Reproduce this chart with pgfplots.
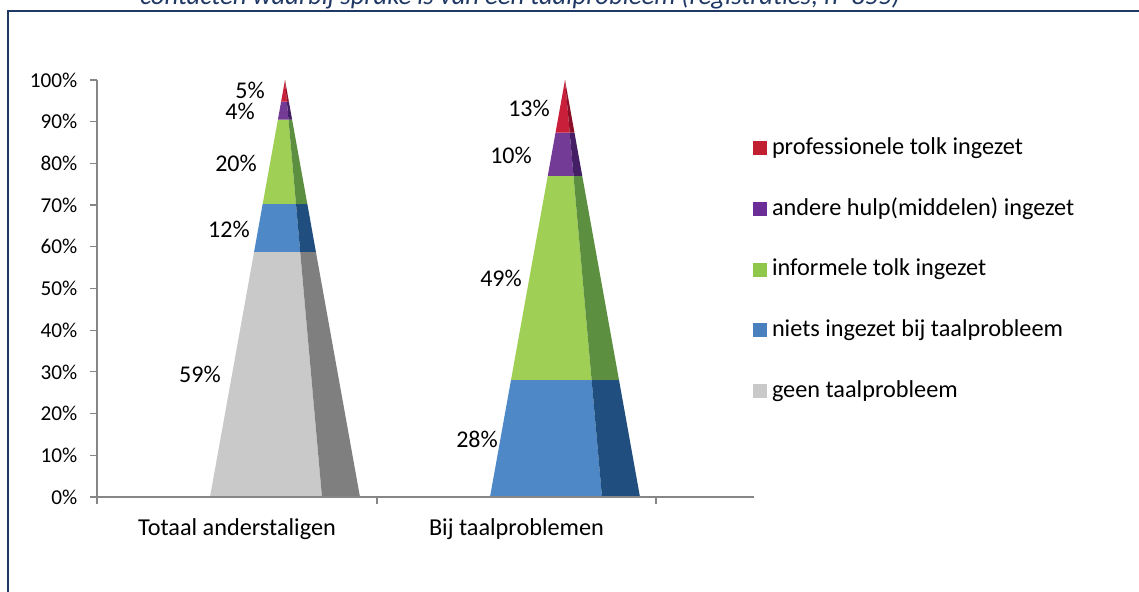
\documentclass[border=0pt]{standalone}
\usepackage{fontspec}
\setmainfont{Carlito}
\usepackage{pgfplots}
\pgfplotsset{compat=1.18}
\definecolor{framec}{HTML}{1F3864}
\definecolor{axisc}{HTML}{868686}
\definecolor{redf}{HTML}{C91F3B}
\definecolor{redd}{HTML}{8C0F28}
\definecolor{purf}{HTML}{733A96}
\definecolor{purd}{HTML}{441F66}
\definecolor{grnf}{HTML}{A0CF55}
\definecolor{grnd}{HTML}{5C8F3F}
\definecolor{bluf}{HTML}{4F88C7}
\definecolor{blud}{HTML}{1F4E7F}
\definecolor{gryf}{HTML}{C9C9C9}
\definecolor{gryd}{HTML}{7F7F7F}
\definecolor{redl}{HTML}{C0202F}
\definecolor{purl}{HTML}{6A2E96}
\definecolor{grnl}{HTML}{8FC74A}
\definecolor{blul}{HTML}{4A80BE}
\begin{document}
\begin{tikzpicture}
\useasboundingbox (-72.75pt,-71.25pt) rectangle (781.5pt,372.75pt);
\clip (-72.75pt,-71.25pt) rectangle (781.5pt,372.75pt);
\draw[framec, line width=1.6pt] (-66.75pt,-72pt) -- (-66.75pt,364.5pt) -- (782pt,364.5pt);
\node[anchor=base, text=framec, font=\fontsize{20pt}{24pt}\selectfont\itshape, inner sep=0pt] at (317.25pt,369pt)
  {contacten waarbij sprake is van een taalprobleem (registraties; n=855)};
\begin{axis}[
  scale only axis,
  width=492.75pt, height=312.75pt,
  xmin=97, xmax=754, ymin=0, ymax=100,
  axis x line=bottom, axis y line=left,
  axis line style={-, axisc, line width=1.1pt},
  tick style={axisc, line width=0.9pt},
  major tick length=5.25pt,
  tick align=outside,
  xtick={97,377,656}, xticklabels={},
  extra x ticks={237,516.5},
  extra x tick labels={Totaal anderstaligen,Bij taalproblemen},
  extra x tick style={major tick length=0pt,
    tick label style={yshift=-13pt, font=\fontsize{18.2pt}{20pt}\selectfont}},
  ytick={0,10,...,100},
  yticklabels={0\%,10\%,20\%,30\%,40\%,50\%,60\%,70\%,80\%,90\%,100\%},
  y tick label style={xshift=-6pt, font=\fontsize{15.9pt}{18pt}\selectfont},
  axis on top,
  clip=false,
  legend cell align=left,
  legend image code/.code={\fill[#1] (0pt,-5.25pt) rectangle (10.5pt,5.25pt);},
  legend style={at={(axis cs:753,54.5)}, anchor=west, draw=none, fill=none,
    inner sep=0pt, outer sep=0pt, row sep=28.5pt, column sep=3.75pt,
    font=\fontsize{18.2pt}{20pt}\selectfont,
    nodes={inner sep=0pt, text height=13pt, text depth=4pt}},
]
% pyramid 1: Totaal anderstaligen (59, 12, 20, 4, 5)
\addplot[fill=gryf, draw=none, forget plot] coordinates {(210,0) (322,0) (300.2,58.8) (254.1,58.8)} --cycle;
\addplot[fill=gryd, draw=none, forget plot] coordinates {(322,0) (360,0) (315.9,58.8) (300.2,58.8)} --cycle;
\addplot[fill=bluf, draw=none, forget plot] coordinates {(254.1,58.8) (300.2,58.8) (296,70.3) (262.7,70.3)} --cycle;
\addplot[fill=blud, draw=none, forget plot] coordinates {(300.2,58.8) (315.9,58.8) (307.3,70.3) (296,70.3)} --cycle;
\addplot[fill=grnf, draw=none, forget plot] coordinates {(262.7,70.3) (296,70.3) (288.5,90.5) (277.9,90.5)} --cycle;
\addplot[fill=grnd, draw=none, forget plot] coordinates {(296,70.3) (307.3,70.3) (292.1,90.5) (288.5,90.5)} --cycle;
\addplot[fill=purf, draw=none, forget plot] coordinates {(277.9,90.5) (288.5,90.5) (286.9,94.8) (281.1,94.8)} --cycle;
\addplot[fill=purd, draw=none, forget plot] coordinates {(288.5,90.5) (292.1,90.5) (288.9,94.8) (286.9,94.8)} --cycle;
\addplot[fill=redf, draw=none, forget plot] coordinates {(281.1,94.8) (286.9,94.8) (285,100)} --cycle;
\addplot[fill=redd, draw=none, forget plot] coordinates {(286.9,94.8) (288.9,94.8) (285,100)} --cycle;
% pyramid 2: Bij taalproblemen (28, 49, 10, 13)
\addplot[fill=bluf, draw=none, forget plot] coordinates {(490,0) (602,0) (591.6,28.06) (511,28.06)} --cycle;
\addplot[fill=blud, draw=none, forget plot] coordinates {(602,0) (640,0) (619,28.06) (591.6,28.06)} --cycle;
\addplot[fill=grnf, draw=none, forget plot] coordinates {(511,28.06) (591.6,28.06) (573.5,77) (547.75,77)} --cycle;
\addplot[fill=grnd, draw=none, forget plot] coordinates {(591.6,28.06) (619,28.06) (582.25,77) (573.5,77)} --cycle;
\addplot[fill=purf, draw=none, forget plot] coordinates {(547.75,77) (573.5,77) (569.7,87.4) (555.55,87.4)} --cycle;
\addplot[fill=purd, draw=none, forget plot] coordinates {(573.5,77) (582.25,77) (574.45,87.4) (569.7,87.4)} --cycle;
\addplot[fill=redf, draw=none, forget plot] coordinates {(555.55,87.4) (569.7,87.4) (565,100)} --cycle;
\addplot[fill=redd, draw=none, forget plot] coordinates {(569.7,87.4) (574.45,87.4) (565,100)} --cycle;
% value labels
\addplot[only marks, mark=none, forget plot, point meta=explicit symbolic,
  nodes near coords,
  nodes near coords style={anchor=east, inner sep=0pt, font=\fontsize{18pt}{20pt}\selectfont}]
  table[meta=lab] {
  x y lab
  265 97.4 5\%
  255 92.4 4\%
  257 80.1 20\%
  250 64.2 12\%
  221 29.3 59\%
  550 93.3 13\%
  532 81.8 10\%
  522 52.3 49\%
  498 13.9 28\%
  };
\addlegendimage{fill=redl, draw=none}\addlegendentry{professionele tolk ingezet}
\addlegendimage{fill=purl, draw=none}\addlegendentry{andere hulp(middelen) ingezet}
\addlegendimage{fill=grnl, draw=none}\addlegendentry{informele tolk ingezet}
\addlegendimage{fill=blul, draw=none}\addlegendentry{niets ingezet bij taalprobleem}
\addlegendimage{fill=gryf, draw=none}\addlegendentry{geen taalprobleem}
\end{axis}
\end{tikzpicture}
\end{document}
